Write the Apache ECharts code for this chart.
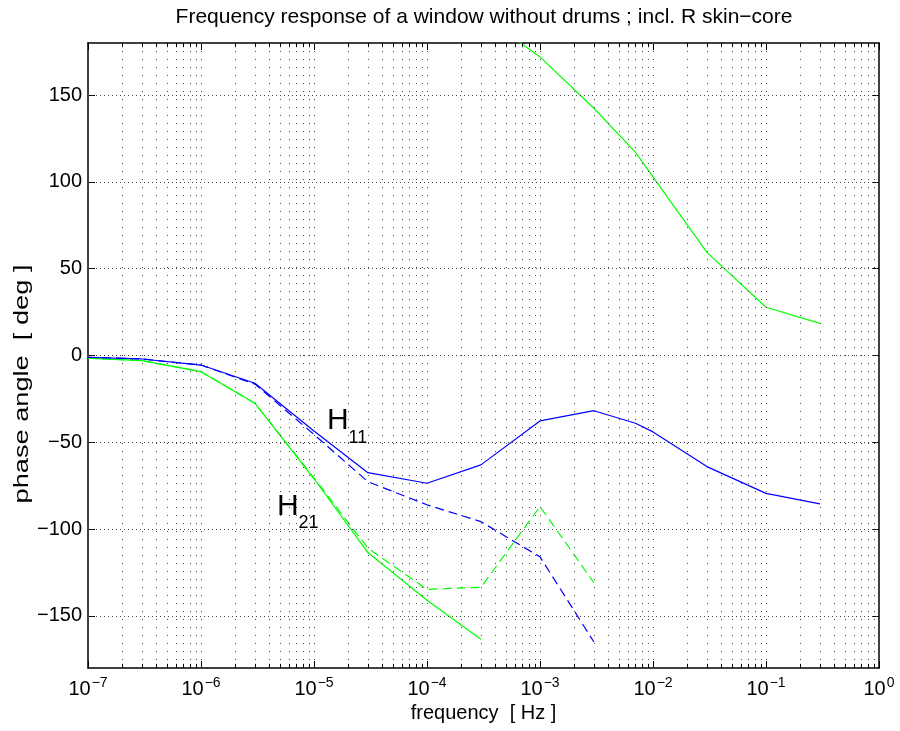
<!DOCTYPE html>
<html>
<head>
<meta charset="utf-8">
<script src="https://cdn.jsdelivr.net/npm/echarts@6/dist/echarts.min.js"></script>
<style>
  html, body { margin: 0; padding: 0; background: #fff; }
  #chart { width: 900px; height: 731px; }
</style>
</head>
<body>
<div id="chart"></div>
<script>
// Phase angle (deg) versus frequency (Hz)
const freqH11 = [1e-7, 3e-7, 1e-6, 3e-6, 1e-5, 3e-5, 1e-4, 3e-4, 1e-3, 3e-3, 7e-3, 1e-2, 3e-2, 1e-1, 3e-1];
const phaseH11 = [-1, -2, -5.5, -16, -43.5, -67.5, -73.6, -63, -37.7, -31.8, -39, -44, -64, -79.4, -85.5];

const freqH11b = [1e-7, 3e-7, 1e-6, 3e-6, 1e-5, 3e-5, 1e-4, 3e-4, 1e-3, 3e-3];
const phaseH11b = [-1, -2, -5.5, -16.5, -45.5, -72.7, -86, -95.7, -116, -165];

// H21, lower branch and the wrapped upper branch (+360 deg)
const freqH21low = [1e-7, 3e-7, 1e-6, 3e-6, 1e-5, 3e-5, 1e-4, 3e-4];
const phaseH21low = [-1.5, -3, -9.3, -27.5, -71, -113.5, -141, -163.5];
const freqH21up = [3e-4, 1e-3, 3e-3, 7e-3, 3e-2, 1e-1, 3e-1];
const phaseH21up = [196.5, 172, 142.4, 117, 59.4, 27.8, 18.5];

const freqH21b = [1e-7, 3e-7, 1e-6, 3e-6, 1e-5, 3e-5, 1e-4, 3e-4, 1e-3, 3e-3];
const phaseH21b = [-1.5, -3, -9.3, -27.5, -70.5, -111, -134.7, -133.5, -87, -130.9];

const xDecades = [1e-7, 1e-6, 1e-5, 1e-4, 1e-3, 1e-2, 1e-1, 1];
const yTicks = [-150, -100, -50, 0, 50, 100, 150];

const FONT = 'Liberation Sans';
const pairs = (xs, ys) => xs.map((x, i) => [x, ys[i]]);

// minor decade positions 2..9 x 10^k
const minorX = [];
for (let i = 0; i < xDecades.length - 1; i++) {
  for (let d = 2; d <= 9; d++) minorX.push(+(d * xDecades[i]).toPrecision(3));
}

const dotMajor = { color: '#444', width: 1, type: [1, 3] };
const dotMinor = { color: '#444', width: 1, type: [1, 7] };
const tickStyle = { color: '#000', width: 1, type: 'solid' };

const gridLines = [];
minorX.forEach(v => gridLines.push({ xAxis: v, lineStyle: dotMinor }));
xDecades.slice(1, -1).forEach(v => gridLines.push({ xAxis: v, lineStyle: dotMinor }));
yTicks.forEach(v => gridLines.push({ yAxis: v, lineStyle: dotMajor }));
// short minor ticks along the bottom and top edges
minorX.forEach(v => {
  gridLines.push([{ coord: [v, -180], lineStyle: tickStyle }, { coord: [v, -177.6] }]);
  gridLines.push([{ coord: [v, 180], lineStyle: tickStyle }, { coord: [v, 177.6] }]);
});

function expLabel(v) {
  const e = Math.round(Math.log10(v));
  return '{a|10}{s|' + (e < 0 ? '\u2212' + (-e) : e) + '}';
}

const baseX = {
  type: 'log', logBase: 10, min: 1e-7, max: 1,
  axisLine: { show: true, onZero: false, lineStyle: { color: '#000', width: 1.5 } },
  axisTick: { show: true, inside: true, length: 7, customValues: xDecades, lineStyle: { color: '#000' } },
  splitLine: { show: false }
};
const baseY = {
  type: 'value', min: -180, max: 180,
  axisLine: { show: true, onZero: false, lineStyle: { color: '#000', width: 1.5 } },
  axisTick: { show: true, inside: true, length: 7, customValues: yTicks, lineStyle: { color: '#000' } },
  splitLine: { show: false }
};

const subLabel = (text) => ({
  show: true, position: [0, 0], formatter: text,
  rich: {
    h: { fontFamily: FONT, fontSize: 30, color: '#000', lineHeight: 30, verticalAlign: 'top' },
    s: { fontFamily: FONT, fontSize: 18, color: '#000', lineHeight: 18, padding: [23, 0, 0, 0], verticalAlign: 'top' }
  }
});

const chart = echarts.init(document.getElementById('chart'), null, { renderer: 'canvas' });
chart.setOption({
  animation: false,
  backgroundColor: '#fff',
  title: {
    text: 'Frequency response of a window without drums ; incl. R skin\u2212core',
    left: 484, top: 7, textAlign: 'center', padding: 0,
    textStyle: { fontFamily: FONT, fontSize: 21, fontWeight: 'normal', color: '#000' }
  },
  grid: { left: 88, right: 21, top: 43, bottom: 63, containLabel: false },
  xAxis: [
    Object.assign({}, baseX, {
      position: 'bottom',
      name: 'frequency  [ Hz ]', nameLocation: 'middle', nameGap: 35,
      nameTextStyle: { fontFamily: FONT, fontSize: 20, color: '#000' },
      axisLabel: {
        show: true, margin: 6, customValues: xDecades,
        formatter: expLabel,
        rich: {
          a: { fontFamily: FONT, fontSize: 20, color: '#000', lineHeight: 22, padding: [8, 0, 0, 0] },
          s: { fontFamily: FONT, fontSize: 14, color: '#000', lineHeight: 14, padding: [2, 0, 0, 1], verticalAlign: 'top' }
        }
      }
    }),
    Object.assign({}, baseX, { position: 'top', axisLabel: { show: false } })
  ],
  yAxis: [
    Object.assign({}, baseY, {
      position: 'left',
      axisLabel: {
        show: true, margin: 6, customValues: yTicks,
        fontFamily: FONT, fontSize: 20, color: '#000',
        formatter: v => (v < 0 ? '\u2212' + (-v) : '' + v)
      }
    }),
    Object.assign({}, baseY, { position: 'right', axisLabel: { show: false } })
  ],
  graphic: [{
    type: 'text', x: 22, y: 384, rotation: Math.PI / 2, scaleX: 1.36,
    style: {
      text: 'phase angle  [ deg ]', fontFamily: FONT, fontSize: 20, fill: '#000',
      align: 'center', verticalAlign: 'middle'
    }
  }],
  series: [
    {
      name: 'grid', type: 'line', data: [], silent: true,
      markLine: {
        silent: true, precision: 12, symbol: ['none', 'none'],
        label: { show: false }, data: gridLines, animation: false
      }
    },
    {
      name: 'H11', type: 'line', data: pairs(freqH11, phaseH11), showSymbol: false,
      lineStyle: { color: '#0000ff', width: 1.2 }, z: 5,
      markPoint: {
        symbolSize: 0, silent: true, itemStyle: { color: 'transparent' },
        data: [{ coord: [1.3e-5, -29] }],
        label: subLabel('{h|H}{s|11}')
      }
    },
    {
      name: 'H11 dashed', type: 'line', data: pairs(freqH11b, phaseH11b), showSymbol: false,
      lineStyle: { color: '#0000ff', width: 1.2, type: [9, 5] }, z: 5
    },
    {
      name: 'H21', type: 'line', data: pairs(freqH21low, phaseH21low), showSymbol: false,
      lineStyle: { color: '#00ff00', width: 1.2 }, z: 4,
      markPoint: {
        symbolSize: 0, silent: true, itemStyle: { color: 'transparent' },
        data: [{ coord: [4.7e-6, -78.2] }],
        label: subLabel('{h|H}{s|21}')
      }
    },
    {
      name: 'H21 upper', type: 'line', data: pairs(freqH21up, phaseH21up), showSymbol: false,
      lineStyle: { color: '#00ff00', width: 1.2 }, z: 4
    },
    {
      name: 'H21 dashed', type: 'line', data: pairs(freqH21b, phaseH21b), showSymbol: false,
      lineStyle: { color: '#00ff00', width: 1.2, type: [9, 5] }, z: 4
    }
  ]
});
</script>
</body>
</html>
